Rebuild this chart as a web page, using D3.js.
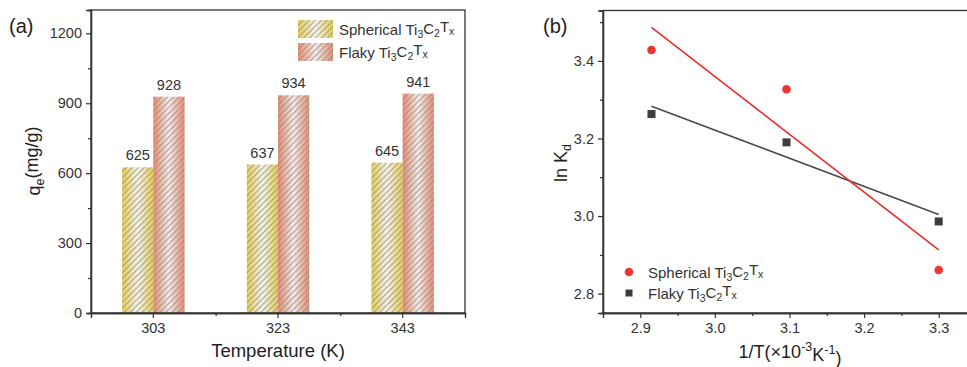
<!DOCTYPE html>
<html>
<head>
<meta charset="utf-8">
<script src="https://cdn.jsdelivr.net/npm/d3@7"></script>
<style>
  html, body { margin: 0; padding: 0; background: #fff; }
  svg { display: block; font-family: "Liberation Sans", Arial, sans-serif; }
</style>
</head>
<body>
<svg id="chart" width="967" height="367"></svg>
<script>
// ---- data ----
const temperatures = ["303", "323", "343"];
const sphericalQe = [625, 637, 645];
const flakyQe = [928, 934, 941];
const qeTicks = [0, 300, 600, 900, 1200];

const invT = [3.300, 3.096, 2.915];          // 1/T (×10^-3 K^-1)
const sphericalLnKd = [2.861, 3.327, 3.428];
const flakyLnKd = [2.986, 3.190, 3.263];
const invTTicks = [2.9, 3.0, 3.1, 3.2, 3.3];
const lnKdTicks = [2.8, 3.0, 3.2, 3.4];

const svg = d3.select("#chart");
const defs = svg.append("defs");
const textColor = "#333";

// horizontal gradients for the hatched bars
function barGradient(id, edge, mid) {
  const g = defs.append("linearGradient").attr("id", id)
    .attr("x1", 0).attr("x2", 1).attr("y1", 0).attr("y2", 0);
  g.append("stop").attr("offset", "0%").attr("stop-color", edge);
  g.append("stop").attr("offset", "50%").attr("stop-color", mid);
  g.append("stop").attr("offset", "100%").attr("stop-color", edge);
}
barGradient("gradSpherical", "#e9d04a", "#f8f5ec");
barGradient("gradFlaky", "#eb8a6b", "#f8efeb");

const hatch = defs.append("pattern").attr("id", "hatch")
  .attr("patternUnits", "userSpaceOnUse")
  .attr("width", 4.2).attr("height", 4.2)
  .attr("patternTransform", "rotate(45)");
hatch.append("line").attr("x1", 2.1).attr("x2", 2.1).attr("y1", 0).attr("y2", 4.2)
  .attr("stroke", "#8a8a8a").attr("stroke-width", 1.3).attr("stroke-opacity", 0.7);

function addTspans(sel, parts, sub) {
  parts.forEach(p => {
    const t = sel.append("tspan").text(p.t);
    if (p.s === "sub") t.attr("font-size", sub).attr("dy", "0.3em");
    else if (p.s === "sup") t.attr("font-size", sub).attr("dy", "-0.55em");
    else if (p.back) t.attr("dy", p.back);
  });
}

// ================= panel (a): bar chart =================
const A = { left: 91, right: 465, top: 10, bottom: 313 };
const xA = d3.scaleBand().domain(temperatures).range([A.left, A.right]).paddingInner(0).paddingOuter(0);
const xSub = d3.scaleBand().domain(["s", "f"]).range([0, xA.bandwidth() * 0.5]);
const yA = d3.scaleLinear().domain([0, 1300]).range([A.bottom, A.top]);

const gA = svg.append("g");
const barW = xSub.bandwidth();
const series = [
  { key: "s", vals: sphericalQe, grad: "url(#gradSpherical)" },
  { key: "f", vals: flakyQe, grad: "url(#gradFlaky)" }
];
series.forEach(s => {
  temperatures.forEach((t, i) => {
    const x0 = xA(t) + xA.bandwidth() * 0.25 + xSub(s.key);
    const y0 = yA(s.vals[i]);
    const h = yA(0) - y0;
    gA.append("rect").attr("x", x0).attr("y", y0).attr("width", barW).attr("height", h).attr("fill", s.grad);
    gA.append("rect").attr("x", x0).attr("y", y0).attr("width", barW).attr("height", h).attr("fill", "url(#hatch)");
    gA.append("text").attr("x", x0 + barW / 2).attr("y", y0 - 7)
      .attr("text-anchor", "middle").attr("font-size", 14.5).attr("fill", textColor)
      .text(s.vals[i]);
  });
});

// frame
gA.append("rect").attr("x", A.left).attr("y", A.top).attr("width", A.right - A.left).attr("height", A.bottom - A.top)
  .attr("fill", "none").attr("stroke", "#333").attr("stroke-width", 1.3);

// y axis
gA.append("g").attr("transform", `translate(${A.left},0)`)
  .call(d3.axisLeft(yA).tickValues(qeTicks).tickSize(5).tickPadding(4).tickFormat(d3.format("d")));
gA.append("g").attr("transform", `translate(${A.left},0)`)
  .call(d3.axisLeft(yA).tickValues([150, 450, 750, 1050]).tickSize(3).tickFormat(""));
// x axis
gA.append("g").attr("transform", `translate(0,${A.bottom})`)
  .call(d3.axisBottom(xA).tickSize(5).tickPadding(5));
gA.append("g").attr("transform", `translate(0,${A.bottom})`)
  .call(d3.axisBottom(d3.scaleLinear().domain([0, 3]).range([A.left, A.right]))
    .tickValues([1, 2]).tickSize(3).tickFormat(""));

// legend (a)
const legA = [
  { label: "Spherical Ti", grad: "url(#gradSpherical)", y: 20 },
  { label: "Flaky Ti", grad: "url(#gradFlaky)", y: 43 }
];
legA.forEach(l => {
  gA.append("rect").attr("x", 298).attr("y", l.y).attr("width", 35).attr("height", 18).attr("fill", l.grad);
  gA.append("rect").attr("x", 298).attr("y", l.y).attr("width", 35).attr("height", 18).attr("fill", "url(#hatch)");
  const t = gA.append("text").attr("x", 339).attr("y", l.y + 15).attr("font-size", 15).attr("fill", textColor);
  addTspans(t, [{ t: l.label }, { t: "3", s: "sub" }, { t: "C", back: "-0.3em" }, { t: "2", s: "sub" },
    { t: "T", back: "-0.3em" }, { t: "x", s: "sub" }], 10.5);
});

// titles (a)
gA.append("text").attr("x", 278).attr("y", 357).attr("text-anchor", "middle")
  .attr("font-size", 18.5).attr("fill", "#222").text("Temperature (K)");
const ytA = gA.append("text").attr("transform", "translate(40,161) rotate(-90)")
  .attr("text-anchor", "middle").attr("font-size", 18).attr("fill", "#222");
addTspans(ytA, [{ t: "q" }, { t: "e", s: "sub" }, { t: "(mg/g)", back: "-0.3em" }], 12.5);
gA.append("text").attr("x", 9).attr("y", 33).attr("font-size", 20).attr("fill", "#222").text("(a)");

// ================= panel (b): ln Kd vs 1/T =================
const B = { left: 603, right: 976, top: 10.5, bottom: 313 };
const xB = d3.scaleLinear().domain([2.85, 3.35]).range([B.left, B.right]);
const yB = d3.scaleLinear().domain([2.75, 3.53]).range([B.bottom, B.top]);
const gB = svg.append("g");

gB.append("rect").attr("x", B.left).attr("y", B.top).attr("width", B.right - B.left).attr("height", B.bottom - B.top)
  .attr("fill", "none").attr("stroke", "#333").attr("stroke-width", 1.3);

gB.append("g").attr("transform", `translate(${B.left},0)`)
  .call(d3.axisLeft(yB).tickValues(lnKdTicks).tickSize(5).tickPadding(4).tickFormat(d3.format(".1f")));
gB.append("g").attr("transform", `translate(${B.left},0)`)
  .call(d3.axisLeft(yB).tickValues([2.9, 3.1, 3.3, 3.5]).tickSize(3).tickFormat(""));
gB.append("g").attr("transform", `translate(0,${B.bottom})`)
  .call(d3.axisBottom(xB).tickValues(invTTicks).tickSize(5).tickPadding(5).tickFormat(d3.format(".1f")));
gB.append("g").attr("transform", `translate(0,${B.bottom})`)
  .call(d3.axisBottom(xB).tickValues([2.95, 3.05, 3.15, 3.25]).tickSize(3).tickFormat(""));

// least-squares fit lines
function fit(xs, ys) {
  const mx = d3.mean(xs), my = d3.mean(ys);
  const sxy = d3.sum(xs, (x, i) => (x - mx) * (ys[i] - my));
  const sxx = d3.sum(xs, x => (x - mx) ** 2);
  const k = sxy / sxx;
  return x => my + k * (x - mx);
}
const fitS = fit(invT, sphericalLnKd);
const fitF = fit(invT, flakyLnKd);
const xr = d3.extent(invT);
const line = d3.line().x(d => xB(d[0])).y(d => yB(d[1]));
gB.append("path").datum(xr.map(x => [x, fitF(x)])).attr("d", line)
  .attr("stroke", "#4a4a4a").attr("stroke-width", 1.6).attr("fill", "none");
gB.append("path").datum(xr.map(x => [x, fitS(x)])).attr("d", line)
  .attr("stroke", "#ec2a2a").attr("stroke-width", 1.6).attr("fill", "none");

invT.forEach((x, i) => {
  gB.append("circle").attr("cx", xB(x)).attr("cy", yB(sphericalLnKd[i])).attr("r", 4.3).attr("fill", "#f03434");
  gB.append("rect").attr("x", xB(x) - 4).attr("y", yB(flakyLnKd[i]) - 4).attr("width", 8).attr("height", 8).attr("fill", "#3d3d3d");
});

// legend (b)
gB.append("circle").attr("cx", 629).attr("cy", 272).attr("r", 4.3).attr("fill", "#f03434");
gB.append("rect").attr("x", 625.5).attr("y", 289.5).attr("width", 7).attr("height", 7).attr("fill", "#3d3d3d");
[{ label: "Spherical Ti", y: 278 }, { label: "Flaky Ti", y: 299 }].forEach(l => {
  const t = gB.append("text").attr("x", 648).attr("y", l.y).attr("font-size", 15).attr("fill", textColor);
  addTspans(t, [{ t: l.label }, { t: "3", s: "sub" }, { t: "C", back: "-0.3em" }, { t: "2", s: "sub" },
    { t: "T", back: "-0.3em" }, { t: "x", s: "sub" }], 10.5);
});

// titles (b)
const xtB = gB.append("text").attr("x", 790).attr("y", 358).attr("text-anchor", "middle")
  .attr("font-size", 18).attr("fill", "#222");
addTspans(xtB, [{ t: "1/T(×10" }, { t: "-3", s: "sup" }, { t: "K", back: "0.55em" }, { t: "-1", s: "sup" },
  { t: ")", back: "0.55em" }], 12.5);
const ytB = gB.append("text").attr("transform", "translate(567,163) rotate(-90)")
  .attr("text-anchor", "middle").attr("font-size", 18).attr("fill", "#222");
addTspans(ytB, [{ t: "ln K" }, { t: "d", s: "sub" }], 12.5);
gB.append("text").attr("x", 543).attr("y", 33).attr("font-size", 20).attr("fill", "#222").text("(b)");

// axis styling
svg.selectAll(".domain").attr("stroke", "#333").attr("stroke-width", 1.3);
svg.selectAll(".tick line").attr("stroke", "#333").attr("stroke-width", 1.2);
svg.selectAll(".tick text").attr("font-size", 14.5).attr("fill", textColor)
  .attr("font-family", "Liberation Sans, Arial, sans-serif");
</script>
</body>
</html>
